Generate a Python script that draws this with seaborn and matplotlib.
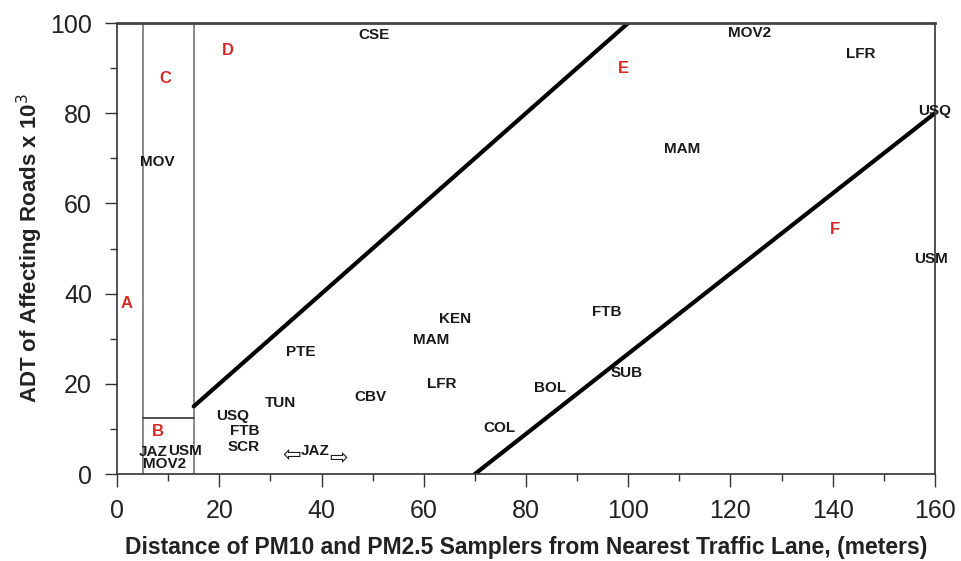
import numpy as np
import pandas as pd
import matplotlib
matplotlib.use("Agg")
import matplotlib.pyplot as plt
from matplotlib.ticker import MultipleLocator
import seaborn as sns

# Site labels (distance in m, ADT x 10^3)
site_names = ["CSE", "MOV2", "LFR", "USQ", "MAM", "USM", "MOV", "KEN", "MAM", "PTE",
              "FTB", "SUB", "BOL", "LFR", "CBV", "TUN", "COL", "USQ", "FTB", "SCR",
              "JAZ", "USM", "MOV2"]
site_x = [50.3, 123.8, 145.5, 160.0, 110.5, 159.2, 7.8, 66.1, 61.4, 36.0,
          95.8, 99.8, 84.7, 63.6, 49.5, 31.9, 74.9, 22.7, 25.0, 24.8,
          7.0, 13.3, 9.2]
site_y = [97.3, 97.8, 93.1, 80.5, 72.1, 47.7, 69.2, 34.4, 29.7, 27.0,
          35.9, 22.4, 19.1, 20.0, 17.1, 15.7, 10.2, 12.9, 9.5, 6.0,
          4.9, 5.1, 2.2]

# Zone letters
zone_names = ["A", "B", "C", "D", "E", "F"]
zone_x = [1.8, 8.0, 9.4, 21.7, 99.0, 140.4]
zone_y = [37.9, 9.5, 87.8, 94.0, 90.0, 54.3]

# Moving JAZ sampler
jaz_x, jaz_y = 38.7, 5.0

# Zone boundaries
bound1_x = [15, 100]
bound1_y = [15, 100]
bound2_x = [70, 160]
bound2_y = [0, 80]
zone_b_x = [5, 15]
zone_b_y = [12.5, 12.5]
vlines_x = [5, 15]

sns.set_theme(style="white")
plt.rcParams["font.family"] = ["Liberation Sans", "DejaVu Sans"]

fig = plt.figure(figsize=(9.61, 5.61), dpi=100)
ax = fig.add_axes([0.1218, 0.155, 0.851, 0.804])

# thick boundary lines
df1 = pd.DataFrame({"x": bound1_x, "y": bound1_y})
df2 = pd.DataFrame({"x": bound2_x, "y": bound2_y})
sns.lineplot(data=df1, x="x", y="y", color="black", linewidth=3, ax=ax)
sns.lineplot(data=df2, x="x", y="y", color="black", linewidth=3, ax=ax)

# thin zone separators
for vx in vlines_x:
    ax.axvline(vx, color="#7f7f7f", linewidth=1.3, zorder=1)
sns.lineplot(x=zone_b_x, y=zone_b_y, color="#333333", linewidth=1.2, ax=ax)

for name, x, y in zip(site_names, site_x, site_y):
    ax.text(x, y, name, ha="center", va="center", fontsize=11, fontweight="bold",
            color="#1a1a1a")
for name, x, y in zip(zone_names, zone_x, zone_y):
    ax.text(x, y, name, ha="center", va="center", fontsize=12, fontweight="bold",
            color="#d42a2a")

# JAZ with hollow arrows either side
ax.text(jaz_x, jaz_y, "JAZ", ha="center", va="center", fontsize=11,
        fontweight="bold", color="#1a1a1a")
ax.annotate("\u21e6", (jaz_x, jaz_y), xytext=(-17, -2), textcoords="offset points",
            ha="center", va="center", fontsize=16, family="DejaVu Sans", color="#1a1a1a")
ax.annotate("\u21e8", (jaz_x, jaz_y), xytext=(17, -4), textcoords="offset points",
            ha="center", va="center", fontsize=16, family="DejaVu Sans", color="#1a1a1a")

ax.set_xlim(0, 160)
ax.set_ylim(0, 100)
ax.xaxis.set_major_locator(MultipleLocator(20))
ax.xaxis.set_minor_locator(MultipleLocator(10))
ax.yaxis.set_major_locator(MultipleLocator(20))
ax.yaxis.set_minor_locator(MultipleLocator(10))
ax.tick_params(axis="both", which="major", direction="out", length=9, width=1,
               color="#333333", labelsize=18, pad=9, bottom=True, left=True)
ax.tick_params(axis="both", which="minor", direction="out", length=5, width=1,
               color="#333333", bottom=True, left=True)
ax.tick_params(axis="x", which="both", top=False)
ax.tick_params(axis="y", which="both", right=False)
for lab in ax.get_xticklabels() + ax.get_yticklabels():
    lab.set_color("#222222")

for side in ["left", "bottom", "right"]:
    ax.spines[side].set_color("#333333")
    ax.spines[side].set_linewidth(1.2)
ax.spines["top"].set_color("#444444")
ax.spines["top"].set_linewidth(2)

ax.set_xlabel("Distance of PM10 and PM2.5 Samplers from Nearest Traffic Lane, (meters)",
              fontsize=16.5, fontweight="bold", color="#222222", labelpad=9)
ax.set_ylabel("ADT of Affecting Roads x 10$^3$", fontsize=16, fontweight="bold",
              color="#222222", labelpad=4)

fig.savefig("out.png", dpi=100)
